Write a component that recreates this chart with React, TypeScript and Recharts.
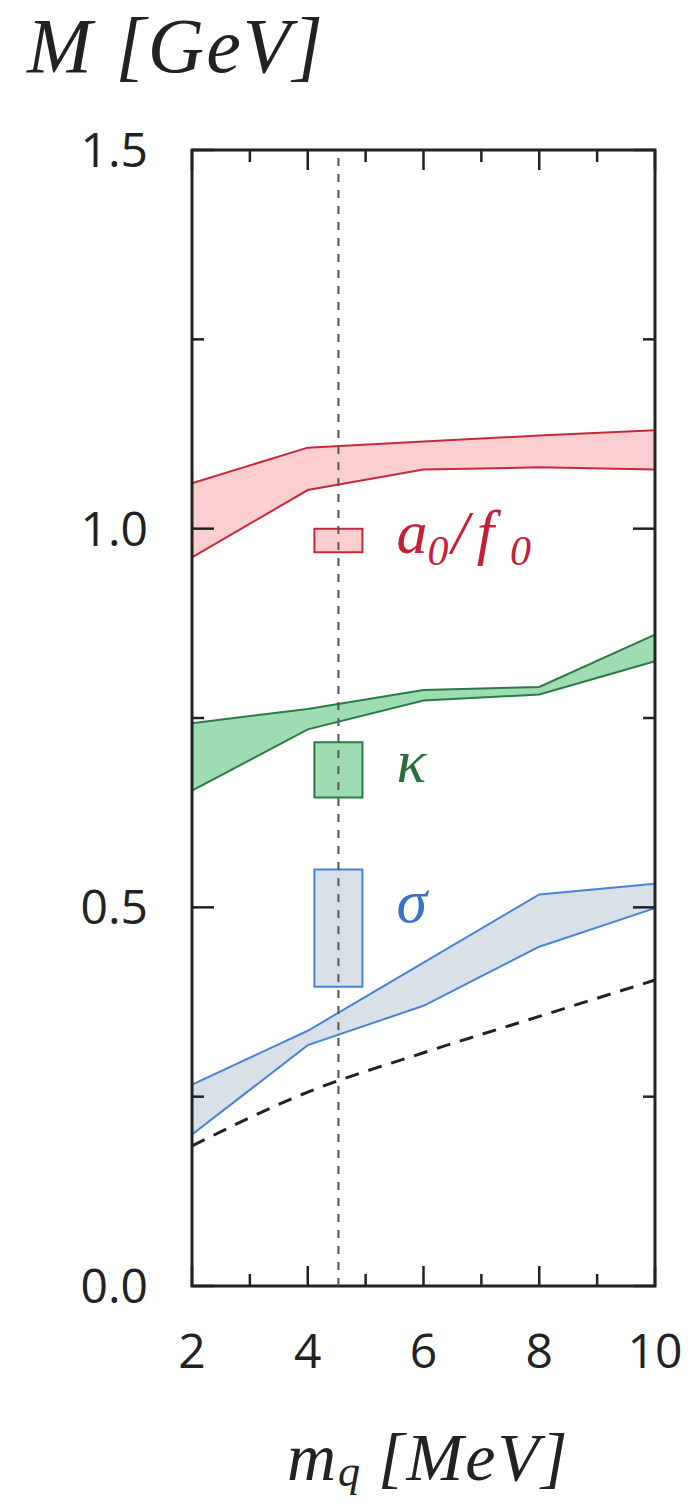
import React from "react";
import {
  Area,
  ComposedChart,
  Line,
  ReferenceArea,
  ReferenceLine,
  XAxis,
  YAxis,
} from "recharts";

// quark mass grid (MeV)
const MQ = [2, 4, 6, 8, 10];

// bands: lower / upper edge (GeV)
const A0_LOW = [0.962, 1.051, 1.078, 1.081, 1.078];
const A0_HIGH = [1.06, 1.107, 1.115, 1.123, 1.13];
const KAPPA_LOW = [0.654, 0.735, 0.773, 0.781, 0.825];
const KAPPA_HIGH = [0.743, 0.762, 0.787, 0.791, 0.86];
const SIGMA_LOW = [0.2, 0.318, 0.37, 0.448, 0.499];
const SIGMA_HIGH = [0.266, 0.337, 0.427, 0.517, 0.531];
const DASHED = [0.185, 0.256, 0.308, 0.356, 0.404];

// physical point and experimental mass ranges
const PHYS_MQ = 4.53;
const PHYS_KEYS = ["a0", "kappa", "sigma"];
const PHYS_LOW = [0.969, 0.645, 0.395];
const PHYS_HIGH = [1.0, 0.718, 0.55];

const X_TICKS = [2, 3, 4, 5, 6, 7, 8, 9, 10];
const Y_TICKS = [0, 0.25, 0.5, 0.75, 1.0, 1.25, 1.5];

const data = MQ.map((x, i) => ({
  x,
  a0: [A0_LOW[i], A0_HIGH[i]],
  kappa: [KAPPA_LOW[i], KAPPA_HIGH[i]],
  sigma: [SIGMA_LOW[i], SIGMA_HIGH[i]],
  dashed: DASHED[i],
}));

const W = 692;
const H = 1504;
const PT = 150;
const PB = 1286;
const PL = 192;
const PR = 655;
const AXIS_W = 40;

const INK = "#222";
const SERIF = "'Liberation Serif', 'DejaVu Serif', serif";
const SANS = "'Open Sans', 'Noto Sans', sans-serif";

const STYLE: Record<string, { stroke: string; fill: string; text: string; dy: number }> = {
  a0: { stroke: "#c9283c", fill: "#fbcfd0", text: "#c32137", dy: 13 },
  kappa: { stroke: "#2c7a47", fill: "#9edcb2", text: "#2a6d40", dy: 12 },
  sigma: { stroke: "#4a82d4", fill: "#d8e0e8", text: "#3a72c9", dy: -6 },
};
const BOX_HALF = 0.415;

function XTick(props: any) {
  const { x, payload } = props;
  const major = payload.value % 2 === 0;
  const len = major ? 20 : 12;
  return (
    <g>
      <line x1={x} x2={x} y1={PB} y2={PB - len} stroke={INK} strokeWidth={2.5} />
      <line x1={x} x2={x} y1={PT} y2={PT + len} stroke={INK} strokeWidth={2.5} />
      {major && (
        <text x={x} y={1368} textAnchor="middle" fontSize={48} fontFamily={SANS} fill={INK}>
          {payload.value}
        </text>
      )}
    </g>
  );
}

function YTick(props: any) {
  const { y, payload } = props;
  const major = Math.round(payload.value * 4) % 2 === 0;
  const len = major ? 22 : 12;
  return (
    <g>
      <line x1={PL} x2={PL + len} y1={y} y2={y} stroke={INK} strokeWidth={2.5} />
      <line x1={PR} x2={PR - len} y1={y} y2={y} stroke={INK} strokeWidth={2.5} />
      {major && (
        <text x={148} y={y + 17} textAnchor="end" fontSize={48} fontFamily={SANS} fill={INK}>
          {payload.value.toFixed(1)}
        </text>
      )}
    </g>
  );
}

function legendText(key: string) {
  if (key === "a0")
    return (
      <>
        a<tspan dy={12} fontSize={42}>0</tspan>
        <tspan dy={-12} dx={3}>/</tspan>
        <tspan dx={8}>f</tspan>
        <tspan dy={12} dx={16} fontSize={42}>0</tspan>
      </>
    );
  if (key === "kappa") return "κ";
  return "σ";
}

function LegendLabel(props: any, key: string) {
  const vb = props.viewBox || {};
  const s = STYLE[key];
  return (
    <text
      x={vb.x + vb.width + 34}
      y={vb.y + vb.height / 2 + s.dy}
      fontSize={62}
      fontStyle="italic"
      fontFamily={SERIF}
      fill={s.text}
    >
      {legendText(key)}
    </text>
  );
}

export default function App() {
  return (
    <div style={{ position: "absolute", left: 0, top: 0, width: W, height: H, background: "#fff" }}>
      <ComposedChart
        width={W}
        height={H}
        data={data}
        margin={{ top: PT, right: W - PR, bottom: H - PB - AXIS_W, left: PL - AXIS_W }}
      >
        <XAxis
          type="number"
          dataKey="x"
          domain={[2, 10]}
          ticks={X_TICKS}
          interval={0}
          height={AXIS_W}
          axisLine={false}
          tickLine={false}
          tick={XTick}
        />
        <YAxis
          type="number"
          domain={[0, 1.5]}
          ticks={Y_TICKS}
          interval={0}
          width={AXIS_W}
          axisLine={false}
          tickLine={false}
          tick={YTick}
        />
        {PHYS_KEYS.map((k) => (
          <Area
            key={k}
            type="linear"
            dataKey={k}
            stroke={STYLE[k].stroke}
            strokeWidth={2}
            fill={STYLE[k].fill}
            fillOpacity={1}
            dot={false}
            activeDot={false}
            isAnimationActive={false}
          />
        ))}
        <Line
          type="monotone"
          dataKey="dashed"
          stroke={INK}
          strokeWidth={3}
          strokeDasharray="14 10"
          dot={false}
          activeDot={false}
          isAnimationActive={false}
        />
        <ReferenceLine x={PHYS_MQ} stroke="#555" strokeWidth={2} strokeDasharray="8 8" />
        {PHYS_KEYS.map((k, i) => (
          <ReferenceArea
            key={k}
            x1={PHYS_MQ - BOX_HALF}
            x2={PHYS_MQ + BOX_HALF}
            y1={PHYS_LOW[i]}
            y2={PHYS_HIGH[i]}
            fill={STYLE[k].fill}
            fillOpacity={1}
            stroke={STYLE[k].stroke}
            strokeWidth={2}
            label={(p: any) => LegendLabel(p, k)}
          />
        ))}
        <ReferenceArea x1={2} x2={10} y1={0} y2={1.5} fill="none" stroke={INK} strokeWidth={3} />
      </ComposedChart>
      <svg width={W} height={H} style={{ position: "absolute", left: 0, top: 0, pointerEvents: "none" }}>
        <text x={27} y={72} fontSize={78} fontStyle="italic" fontFamily={SERIF} fill={INK} letterSpacing={2}>
          M [GeV]
        </text>
        <text x={287} y={1480} fontSize={68} fontStyle="italic" fontFamily={SERIF} fill={INK} letterSpacing={2}>
          m<tspan dy={6} fontSize={44}>q</tspan>
          <tspan dy={-6} dx={16}>[MeV]</tspan>
        </text>
      </svg>
    </div>
  );
}
